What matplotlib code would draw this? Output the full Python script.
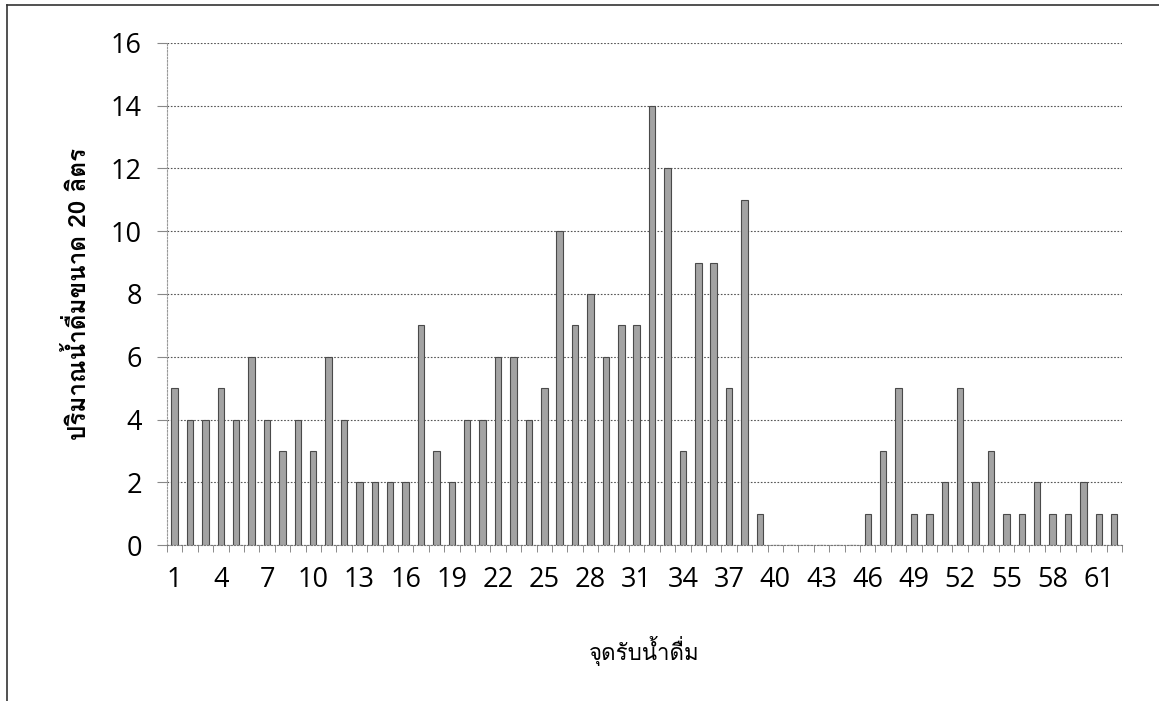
import matplotlib
matplotlib.use('Agg')
import matplotlib.pyplot as plt
from matplotlib import font_manager, ft2font
from matplotlib.lines import Line2D
import numpy as np

# จุดรับน้ำดื่ม 1..62 and the number of 20 L bottles at each
points = list(range(1, 63))
bottles = [5, 4, 4, 5, 4, 6, 4, 3, 4, 3,
           6, 4, 2, 2, 2, 2, 7, 3, 2, 4,
           4, 6, 6, 4, 5, 10, 7, 8, 6, 7,
           7, 14, 12, 3, 9, 9, 5, 11, 1, 0,
           0, 0, 0, 0, 0, 1, 3, 5, 1, 1,
           2, 5, 2, 3, 1, 1, 2, 1, 1, 2,
           1, 1]
tick_labels = [str(p) for p in points[::3]]
y_ticks = [0, 2, 4, 6, 8, 10, 12, 14, 16]


def thai_font():
    # find an installed font that can draw Thai
    for f in font_manager.fontManager.ttflist:
        try:
            ft = ft2font.FT2Font(f.fname)
            if ft.get_char_index(ord('ป')):
                return f.name
        except Exception:
            pass
    return 'DejaVu Sans'


thai = thai_font()
plt.rcParams['font.family'] = ['Open Sans', 'DejaVu Sans']

fig = plt.figure(figsize=(11.59, 7.01), dpi=100)
ax = fig.add_axes([0.144, 0.2225, 0.824, 0.7162])

ax.bar(points, bottles, width=0.42, color='#a3a3a3', edgecolor='#4a4a4a',
       linewidth=0.8, zorder=3)

ax.set_xlim(0.5, 62.5)
ax.set_ylim(0, 16)
ax.set_yticks(y_ticks)
ax.set_xticks(points[::3])
ax.set_xticklabels(tick_labels)
ax.set_xticks(np.arange(0.5, 63, 1), minor=True)
ax.tick_params(axis='x', which='major', length=0, pad=15, labelsize=19.5)
ax.tick_params(axis='x', which='minor', length=5, color='#777777', direction='out')
ax.tick_params(axis='y', length=7, color='#888888', pad=11, labelsize=19.5)

ax.grid(axis='y', color='#555555', linestyle=(0, (1.5, 1.5)), linewidth=0.8, zorder=0)
for s in ['top', 'right']:
    ax.spines[s].set_visible(False)
ax.spines['left'].set_color('#999999')
ax.spines['left'].set_linestyle((0, (1.5, 1.5)))
ax.spines['bottom'].set_color('#777777')
ax.spines['bottom'].set_linestyle((0, (1.5, 1.5)))

ax.set_ylabel('ปริมาณน้ำดื่มขนาด 20 ลิตร', family=[thai, 'DejaVu Sans'],
              fontsize=17.5, fontweight='bold', labelpad=14)
ax.set_xlabel('จุดรับน้ำดื่ม', family=[thai, 'DejaVu Sans'], fontsize=16, labelpad=30)

# frame lines around the figure (left and top)
fig.add_artist(Line2D([0.006, 0.006], [0.0, 0.993], color='#333333', linewidth=1.2,
                      transform=fig.transFigure))
fig.add_artist(Line2D([0.006, 1.0], [0.993, 0.993], color='#333333', linewidth=1.2,
                      transform=fig.transFigure))

fig.savefig('out.png', dpi=100)
